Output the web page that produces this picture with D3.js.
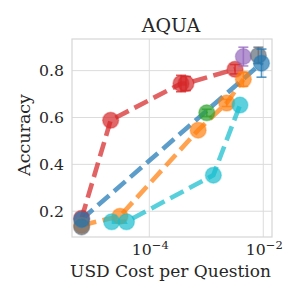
<!DOCTYPE html>
<html><head><meta charset="utf-8">
<script src="https://cdn.jsdelivr.net/npm/d3@7"></script>
<style>body{margin:0;background:#fff}svg{display:block}text{font-family:"DejaVu Serif",serif;fill:#262626}</style>
</head><body><div id="chart"></div>
<script>
// series data (cost in USD per question, accuracy, accuracy error)
const seriesNames = ["red","orange","cyan","green","purple","gray","blue"];
const seriesColors = ["#d62728","#ff7f0e","#17becf","#2ca02c","#9467bd","#5f6b78","#1f77b4"];
const seriesHasLine = [true, true, true, false, false, false, true];
const redCost  = [6.5e-6, 2.1e-5, 3.6e-4, 4.4e-4, 3.2e-3];
const redAcc   = [0.17, 0.588, 0.745, 0.745, 0.806];
const redErr   = [0, 0, 0.035, 0.03, 0.02];
const orangeCost = [6.5e-6, 3.06e-5, 7.2e-4, 2.28e-3, 4.47e-3];
const orangeAcc  = [0.14, 0.179, 0.546, 0.662, 0.763];
const orangeErr  = [0, 0, 0, 0.015, 0.03];
const cyanCost = [2.19e-5, 3.98e-5, 1.33e-3, 3.9e-3];
const cyanAcc  = [0.155, 0.155, 0.354, 0.653];
const cyanErr  = [0, 0, 0, 0];
const greenCost = [1.02e-3];
const greenAcc  = [0.62];
const greenErr  = [0.015];
const purpleCost = [4.47e-3];
const purpleAcc  = [0.86];
const purpleErr  = [0.04];
const grayCost = [6.5e-6, 8.2e-3];
const grayAcc  = [0.133, 0.865];
const grayErr  = [0, 0.035];
const blueCost = [6.5e-6, 9.3e-3];
const blueAcc  = [0.165, 0.832];
const blueErr  = [0, 0.06];
const xTicks = [1e-4, 1e-2];
const yTicks = [0.2, 0.4, 0.6, 0.8];

const costs = [redCost, orangeCost, cyanCost, greenCost, purpleCost, grayCost, blueCost];
const accs  = [redAcc, orangeAcc, cyanAcc, greenAcc, purpleAcc, grayAcc, blueAcc];
const errs  = [redErr, orangeErr, cyanErr, greenErr, purpleErr, grayErr, blueErr];

const W = 299, H = 299;
const m = {l:72, t:39, r:27, b:62};
const svg = d3.select("#chart").append("svg").attr("width", W).attr("height", H);
const x = d3.scaleLog().domain([Math.pow(10,-5.356), Math.pow(10,-1.847)]).range([m.l, W - m.r]);
const y = d3.scaleLinear().domain([0.09, 0.935]).range([H - m.b, m.t]);

// grid
svg.append("g").selectAll("line").data(xTicks).join("line")
  .attr("x1", d => x(d)).attr("x2", d => x(d)).attr("y1", m.t).attr("y2", H - m.b)
  .attr("stroke", "#dcdcdc").attr("stroke-width", 1);
svg.append("g").selectAll("line").data(yTicks).join("line")
  .attr("x1", m.l).attr("x2", W - m.r).attr("y1", d => y(d)).attr("y2", d => y(d))
  .attr("stroke", "#dcdcdc").attr("stroke-width", 1);
svg.append("rect").attr("x", m.l).attr("y", m.t).attr("width", W - m.l - m.r).attr("height", H - m.t - m.b)
  .attr("fill", "none").attr("stroke", "#d6d6d6").attr("stroke-width", 1.2);

// axes (tick labels only)
const yAxis = d3.axisLeft(y).tickValues(yTicks).tickSize(0).tickPadding(8).tickFormat(d3.format(".1f"));
const gy = svg.append("g").attr("transform", `translate(${m.l},0)`).call(yAxis);
gy.select(".domain").remove();
gy.selectAll("text").attr("font-size", 15.7).attr("font-family", "DejaVu Serif").attr("fill", "#262626");

const xAxis = d3.axisBottom(x).tickValues(xTicks).tickSize(0).tickPadding(8).tickFormat(() => "");
const gx = svg.append("g").attr("transform", `translate(0,${H - m.b})`).call(xAxis);
gx.select(".domain").remove();
gx.selectAll(".tick text").each(function(d){
  const t = d3.select(this).text(null).attr("y", 18).attr("dy", 0).attr("font-size", 15.7)
    .attr("text-anchor", "start").attr("x", -18);
  t.append("tspan").text("10");
  t.append("tspan").attr("dy", -6).attr("font-size", 11.5).text("−" + Math.round(-Math.log10(d)));
});

// lines
const line = d3.line().x(d => x(d[0])).y(d => y(d[1]));
const gLines = svg.append("g");
costs.forEach((c, i) => {
  if (!seriesHasLine[i] || c.length < 2) return;
  const pts = c.map((v, j) => [v, accs[i][j]]);
  gLines.append("path").attr("d", line(pts)).attr("fill", "none")
    .attr("stroke", seriesColors[i]).attr("stroke-width", 4.6).attr("stroke-opacity", 0.72)
    .attr("stroke-dasharray", "15,6.5");
});
// markers with error bars
const gPts = svg.append("g");
costs.forEach((c, i) => {
  c.forEach((v, j) => {
    const cx = x(v), a = accs[i][j], e = errs[i][j];
    if (e > 0) {
      const eb = gPts.append("g").attr("stroke", seriesColors[i]).attr("stroke-opacity", 0.75).attr("stroke-width", 1.6);
      eb.append("line").attr("x1", cx).attr("x2", cx).attr("y1", y(a - e)).attr("y2", y(a + e));
      eb.append("line").attr("x1", cx - 5).attr("x2", cx + 5).attr("y1", y(a - e)).attr("y2", y(a - e));
      eb.append("line").attr("x1", cx - 5).attr("x2", cx + 5).attr("y1", y(a + e)).attr("y2", y(a + e));
    }
    gPts.append("circle").attr("cx", cx).attr("cy", y(a)).attr("r", 8)
      .attr("fill", seriesColors[i]).attr("fill-opacity", 0.7)
      .attr("stroke", seriesColors[i]).attr("stroke-opacity", 0.35).attr("stroke-width", 1.5);
  });
});

// labels
svg.append("text").attr("x", 171).attr("y", 32).attr("text-anchor", "middle")
  .attr("font-size", 19).text("AQUA");
svg.append("text").attr("x", 170.5).attr("y", 277).attr("text-anchor", "middle")
  .attr("font-size", 17).text("USD Cost per Question");
svg.append("text").attr("transform", `translate(30,135) rotate(-90)`)
  .attr("text-anchor", "middle").attr("font-size", 17.5).text("Accuracy");
</script></body></html>
